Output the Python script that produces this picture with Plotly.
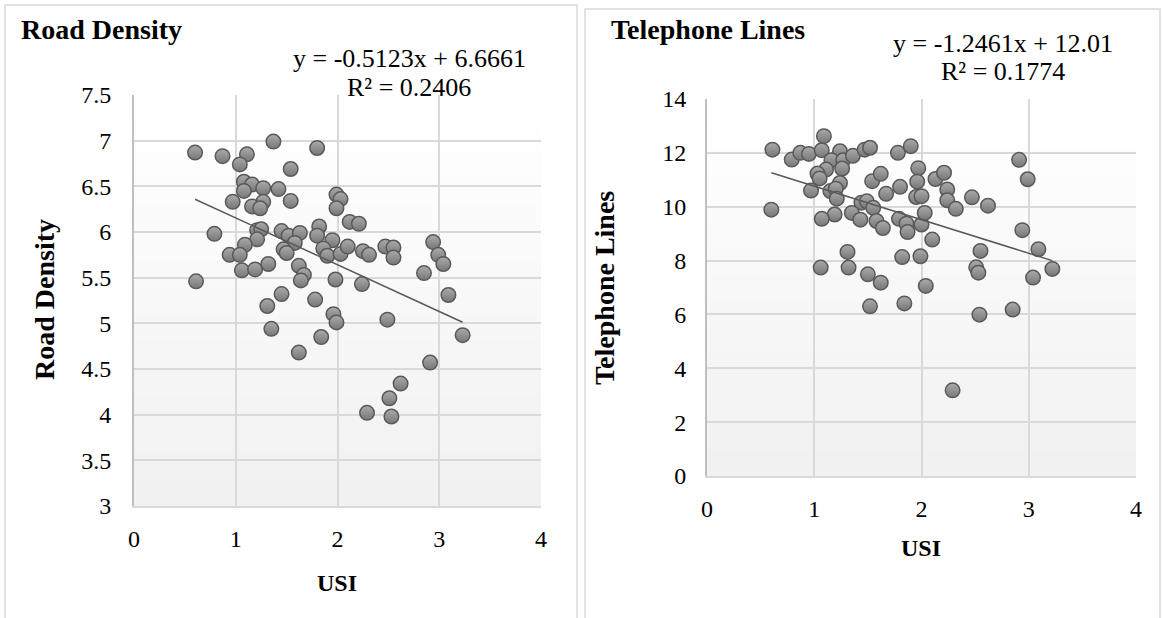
import plotly.graph_objects as go

W, H = 1163, 618

# USI vs road density
usi_road = [0.60, 0.87, 1.11, 1.04, 1.37, 1.80, 1.54, 1.08, 1.16, 1.08, 1.27, 1.42, 0.97, 1.27,
            1.16, 1.24, 1.54, 1.99, 2.03, 1.99, 2.12, 2.21, 0.79, 1.21, 1.25, 1.21, 1.09, 1.45,
            1.52, 1.63, 1.58, 1.82, 1.80, 1.95, 1.86, 1.90, 2.03, 2.10, 2.25, 2.31, 2.47, 2.55,
            2.55, 2.94, 2.99, 3.04, 0.94, 1.04, 1.47, 1.50, 1.06, 1.19, 1.32, 1.62, 1.67, 1.64,
            1.98, 2.24, 2.85, 0.61, 3.09, 1.45, 1.78, 1.31, 1.96, 1.99, 2.49, 1.35, 1.84, 3.23,
            1.62, 2.91, 2.62, 2.51, 2.29, 2.53]
road_density = [6.87, 6.83, 6.85, 6.74, 6.99, 6.92, 6.69, 6.55, 6.52, 6.45, 6.48, 6.47, 6.33, 6.33,
                6.28, 6.26, 6.34, 6.41, 6.36, 6.26, 6.11, 6.09, 5.98, 6.02, 6.03, 5.92, 5.86, 6.01,
                5.96, 5.99, 5.88, 6.06, 5.96, 5.91, 5.82, 5.74, 5.76, 5.84, 5.79, 5.75, 5.84, 5.83,
                5.72, 5.89, 5.75, 5.65, 5.75, 5.75, 5.81, 5.77, 5.58, 5.59, 5.65, 5.63, 5.53, 5.47,
                5.48, 5.43, 5.55, 5.46, 5.31, 5.32, 5.26, 5.19, 5.10, 5.01, 5.04, 4.94, 4.85, 4.87,
                4.68, 4.57, 4.34, 4.18, 4.02, 3.98]
road_slope, road_intercept, road_r2 = -0.5123, 6.6661, 0.2406

# USI vs telephone lines
usi_tel = [0.61, 0.79, 0.87, 0.95, 1.07, 1.09, 1.24, 1.16, 1.27, 1.36, 1.47, 1.52, 1.11, 1.26,
           1.03, 1.05, 1.24, 0.97, 1.15, 1.20, 1.21, 0.60, 1.54, 1.62, 1.67, 1.78, 1.90, 1.80,
           1.97, 1.96, 1.95, 2.00, 2.13, 2.21, 2.24, 2.24, 2.32, 2.47, 2.62, 2.91, 2.99, 1.44,
           1.49, 1.55, 1.35, 1.43, 1.58, 1.64, 1.19, 1.07, 1.79, 1.86, 1.87, 2.00, 2.03, 2.10,
           2.94, 3.09, 3.22, 3.04, 2.55, 2.51, 2.53, 1.31, 1.82, 1.99, 1.06, 1.32, 1.50, 1.62,
           2.04, 1.52, 1.84, 2.54, 2.85, 2.29]
telephone_lines = [12.12, 11.75, 12.00, 11.96, 12.10, 12.62, 12.06, 11.73, 11.73, 11.89, 12.12, 12.19,
                   11.38, 11.42, 11.23, 11.05, 10.88, 10.60, 10.58, 10.67, 10.30, 9.89, 10.95, 11.22,
                   10.48, 12.00, 12.25, 10.74, 11.43, 10.93, 10.36, 10.39, 11.03, 11.26, 10.64, 10.24,
                   9.92, 10.35, 10.04, 11.74, 11.02, 10.15, 10.20, 9.96, 9.77, 9.52, 9.47, 9.21,
                   9.71, 9.55, 9.55, 9.37, 9.06, 9.34, 9.77, 8.78, 9.13, 8.42, 7.69, 7.37,
                   8.36, 7.75, 7.55, 8.32, 8.13, 8.16, 7.74, 7.74, 7.49, 7.18, 7.06, 6.30,
                   6.41, 5.99, 6.18, 3.18]
tel_slope, tel_intercept, tel_r2 = -1.2461, 12.01, 0.1774

x_ticks = [0, 1, 2, 3, 4]
road_ticks = [3, 3.5, 4, 4.5, 5, 5.5, 6, 6.5, 7, 7.5]
tel_ticks = [0, 2, 4, 6, 8, 10, 12, 14]

SERIF = "Liberation Serif"
GRID = "#d9d9d9"

# plot-area boxes in pixels: (left, right, top, bottom)
LEFT_BOX = (134, 541, 95, 506)
RIGHT_BOX = (707, 1136, 99, 476)


def px_x(p):
    return p / W


def px_y(p):
    return 1 - p / H


def fmt(v):
    return f"{v:.4f}".rstrip("0").rstrip(".")


def equation(slope, intercept):
    sign = "+" if intercept >= 0 else "-"
    return f"y = {fmt(slope)}x {sign} {fmt(abs(intercept))}"


fig = go.Figure()

marker = dict(size=14.5, color="#ababab",
              gradient=dict(type="vertical", color="#777777"),
              line=dict(color="#595959", width=1.5))


def add_panel(xs, ys, slope, intercept, xa, ya):
    fig.add_trace(go.Scatter(x=xs, y=ys, mode="markers", marker=marker,
                             xaxis=xa, yaxis=ya, showlegend=False, hoverinfo="skip"))
    x0, x1 = min(xs), max(xs)
    fig.add_trace(go.Scatter(x=[x0, x1], y=[slope * x0 + intercept, slope * x1 + intercept],
                             mode="lines", line=dict(color="#595959", width=1.5),
                             xaxis=xa, yaxis=ya, showlegend=False, hoverinfo="skip"))


add_panel(usi_road, road_density, road_slope, road_intercept, "x", "y")
add_panel(usi_tel, telephone_lines, tel_slope, tel_intercept, "x2", "y2")

axis_common = dict(showgrid=True, gridcolor=GRID, gridwidth=1.5, zeroline=False,
                   ticks="", tickfont=dict(family=SERIF, size=24, color="#000000"),
                   fixedrange=True, automargin=False)

fig.update_layout(
    width=W, height=H,
    margin=dict(l=0, r=0, t=0, b=0, autoexpand=False),
    showlegend=False,
    paper_bgcolor="white", plot_bgcolor="rgba(0,0,0,0)",
    font=dict(family=SERIF, color="#000000"),
    xaxis=dict(domain=[px_x(LEFT_BOX[0]), px_x(LEFT_BOX[1])], range=[0, 4], tickvals=x_ticks,
               anchor="y", ticklabelstandoff=10, showline=True, linecolor=GRID, linewidth=1.5,
               **axis_common),
    yaxis=dict(domain=[px_y(LEFT_BOX[3]), px_y(LEFT_BOX[2])], range=[3, 7.5], tickvals=road_ticks,
               ticktext=[fmt(t) for t in road_ticks], anchor="x", ticklabelstandoff=16,
               showline=True, linecolor="#bfbfbf", linewidth=2, **axis_common),
    xaxis2=dict(domain=[px_x(RIGHT_BOX[0]), px_x(RIGHT_BOX[1])], range=[0, 4], tickvals=x_ticks,
                anchor="y2", ticklabelstandoff=10, showline=True, linecolor=GRID, linewidth=1.5,
                **axis_common),
    yaxis2=dict(domain=[px_y(RIGHT_BOX[3]), px_y(RIGHT_BOX[2])], range=[0, 14], tickvals=tel_ticks,
                anchor="x2", ticklabelstandoff=14, showline=True, linecolor="#bfbfbf",
                linewidth=2, **axis_common),
)

shapes = []
# soft vertical gradient behind each plot area (white at top to light grey at bottom),
# drawn on the paper layer so the gridlines stay on top of it
n_bands = 30
for left, right, top, bottom in (LEFT_BOX, RIGHT_BOX):
    step = (bottom - top) / n_bands
    for i in range(n_bands):
        t = i / (n_bands - 1)
        g = int(round(255 - 14 * t))
        shapes.append(dict(type="rect", xref="paper", yref="paper",
                           x0=px_x(left), x1=px_x(right),
                           y0=px_y(top + (i + 1) * step + 0.5), y1=px_y(top + i * step),
                           fillcolor=f"rgb({g},{g},{g})", line=dict(width=0), layer="below"))

# chart frames
shapes.append(dict(type="rect", xref="paper", yref="paper", x0=px_x(5), x1=px_x(577),
                   y0=-0.05, y1=px_y(5), line=dict(color="#d9d9d9", width=1.5),
                   fillcolor="rgba(0,0,0,0)", layer="below"))
shapes.append(dict(type="rect", xref="paper", yref="paper", x0=px_x(585), x1=px_x(1160),
                   y0=-0.05, y1=px_y(9), line=dict(color="#d9d9d9", width=1.5),
                   fillcolor="rgba(0,0,0,0)", layer="below"))
fig.update_layout(shapes=shapes)


def label(text, x, y, size, bold=False, xanchor="center", angle=0):
    fig.add_annotation(text=f"<b>{text}</b>" if bold else text,
                       xref="paper", yref="paper", x=px_x(x), y=px_y(y),
                       xanchor=xanchor, yanchor="middle", showarrow=False, textangle=angle,
                       borderpad=0, font=dict(family=SERIF, size=size, color="#000000"))


# left chart texts
label("Road Density", 20, 30, 28, bold=True, xanchor="left")
label(equation(road_slope, road_intercept), 409, 58, 26)
label(f"R² = {fmt(road_r2)}", 409, 88, 26)
label("USI", 337, 583, 24, bold=True)
label("Road Density", 44, 300, 28, bold=True, angle=-90)

# right chart texts
label("Telephone Lines", 610, 30, 28, bold=True, xanchor="left")
label(equation(tel_slope, tel_intercept), 1003, 43, 26)
label(f"R² = {fmt(tel_r2)}", 1003, 71, 26)
label("USI", 921, 548, 24, bold=True)
label("Telephone Lines", 604, 288, 28, bold=True, angle=-90)

fig.write_html("out.html")
